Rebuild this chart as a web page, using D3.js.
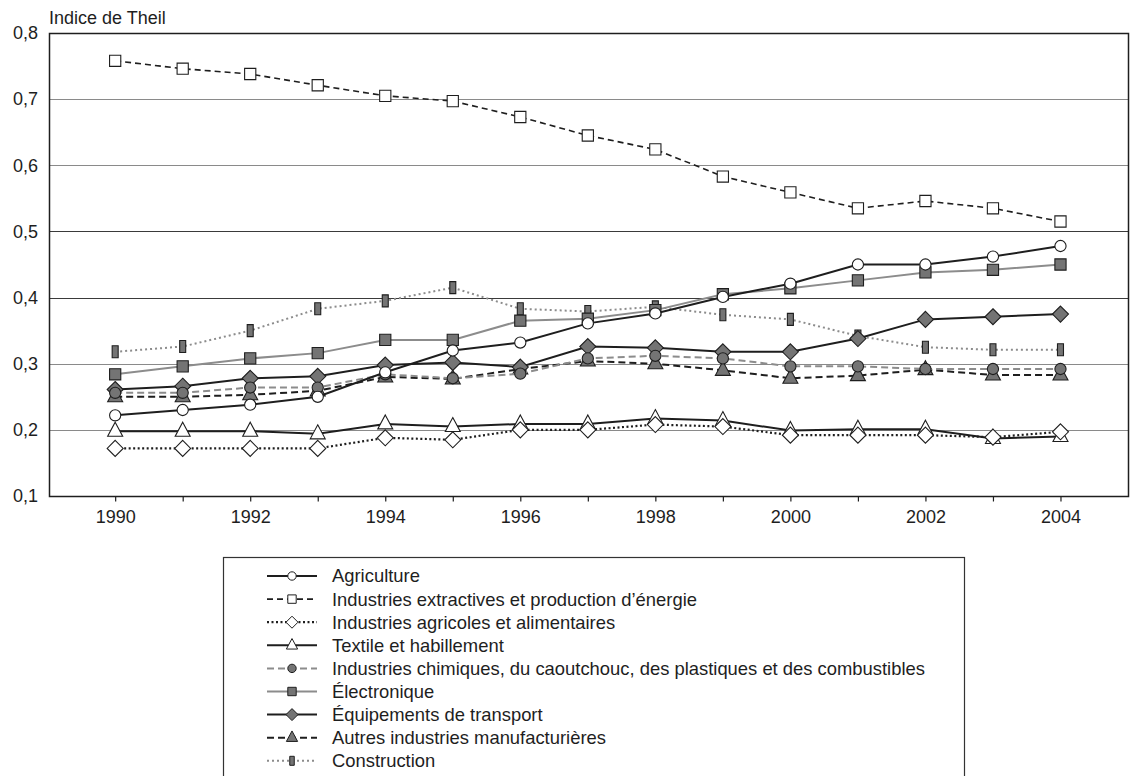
<!DOCTYPE html>
<html>
<head>
<meta charset="utf-8">
<script src="https://cdn.jsdelivr.net/npm/d3@7"></script>
<style>
  html, body { margin: 0; padding: 0; background: #fff; }
  svg { display: block; font-family: "Liberation Sans", Arial, Helvetica, sans-serif; }
</style>
</head>
<body>
<svg id="chart" width="1136" height="776"></svg>
<script>
// ---------- Data ----------
const years = [1990, 1991, 1992, 1993, 1994, 1995, 1996, 1997, 1998, 1999, 2000, 2001, 2002, 2003, 2004];
const yearTickLabels = [1990, 1992, 1994, 1996, 1998, 2000, 2002, 2004];
const yTickValues = [0.1, 0.2, 0.3, 0.4, 0.5, 0.6, 0.7, 0.8];

const agriculture  = [0.222, 0.230, 0.238, 0.250, 0.287, 0.320, 0.332, 0.361, 0.376, 0.401, 0.421, 0.450, 0.450, 0.462, 0.478];
const extractives  = [0.758, 0.746, 0.738, 0.721, 0.705, 0.697, 0.673, 0.645, 0.624, 0.583, 0.559, 0.535, 0.546, 0.535, 0.515];
const agricoles    = [0.172, 0.172, 0.172, 0.172, 0.188, 0.185, 0.200, 0.200, 0.208, 0.205, 0.192, 0.192, 0.192, 0.189, 0.197];
const textile      = [0.198, 0.198, 0.198, 0.194, 0.209, 0.205, 0.209, 0.209, 0.217, 0.214, 0.199, 0.201, 0.201, 0.187, 0.190];
const chimiques    = [0.256, 0.256, 0.264, 0.264, 0.284, 0.278, 0.285, 0.308, 0.312, 0.308, 0.296, 0.296, 0.292, 0.292, 0.292];
const electronique = [0.284, 0.296, 0.308, 0.316, 0.336, 0.336, 0.365, 0.368, 0.381, 0.405, 0.414, 0.426, 0.438, 0.442, 0.450];
const transport    = [0.261, 0.266, 0.278, 0.281, 0.298, 0.302, 0.295, 0.326, 0.324, 0.318, 0.318, 0.338, 0.367, 0.371, 0.375];
const autres       = [0.250, 0.250, 0.253, 0.259, 0.280, 0.277, 0.292, 0.304, 0.300, 0.290, 0.278, 0.282, 0.291, 0.283, 0.283];
const construction = [0.318, 0.326, 0.350, 0.383, 0.395, 0.415, 0.383, 0.379, 0.386, 0.374, 0.367, 0.342, 0.325, 0.321, 0.321];

const seriesNames = [
  "Agriculture",
  "Industries extractives et production d’énergie",
  "Industries agricoles et alimentaires",
  "Textile et habillement",
  "Industries chimiques, du caoutchouc, des plastiques et des combustibles",
  "Électronique",
  "Équipements de transport",
  "Autres industries manufacturières",
  "Construction"
];
const seriesValues = [agriculture, extractives, agricoles, textile, chimiques, electronique, transport, autres, construction];

// ---------- Styles ----------
const DARK = "#1e1e1e", GRAY = "#8c8c8c", FILL = "#747474";
const FONT = 18, LEGEND_FONT = 18.4;
const styles = [
  { stroke: DARK, width: 2,   dash: null,  marker: "circle",   fill: "#fff" },
  { stroke: DARK, width: 1.6, dash: "6,4", marker: "square",   fill: "#fff" },
  { stroke: DARK, width: 2.2, dash: "2,2.5", marker: "diamond", fill: "#fff" },
  { stroke: DARK, width: 2,   dash: null,  marker: "triangle", fill: "#fff" },
  { stroke: GRAY, width: 2,   dash: "7,4", marker: "circle",   fill: FILL },
  { stroke: GRAY, width: 2,   dash: null,  marker: "square",   fill: FILL },
  { stroke: DARK, width: 2,   dash: null,  marker: "diamond",  fill: FILL },
  { stroke: DARK, width: 2,   dash: "7,4", marker: "triangle", fill: FILL },
  { stroke: GRAY, width: 2,   dash: "2,3", marker: "bar",      fill: FILL }
];

// custom symbol shapes (size param = scale factor s)
const shapes = {
  circle:   { draw(ctx, s) { ctx.moveTo(5.6 * s, 0); ctx.arc(0, 0, 5.6 * s, 0, 2 * Math.PI); } },
  square:   { draw(ctx, s) { const h = 5.6 * s; ctx.rect(-h, -h, 2 * h, 2 * h); } },
  diamond:  { draw(ctx, s) { const h = 8 * s; ctx.moveTo(0, -h); ctx.lineTo(h, 0); ctx.lineTo(0, h); ctx.lineTo(-h, 0); ctx.closePath(); } },
  triangle: { draw(ctx, s) { const w = 7.5 * s, t = 9 * s, b = 5 * s; ctx.moveTo(0, -t); ctx.lineTo(w, b); ctx.lineTo(-w, b); ctx.closePath(); } },
  bar:      { draw(ctx, s) { ctx.rect(-3 * s, -6 * s, 6 * s, 12 * s); } }
};
function symbolPath(name, s) { return d3.symbol().type(shapes[name]).size(s)(); }

// ---------- Layout ----------
const svg = d3.select("#chart");
const pL = 49, pR = 1128, pT = 33, pB = 496;

const x = d3.scaleLinear().domain([1989.02, 2005.0]).range([pL, pR]);
const y = d3.scaleLinear().domain([0.1, 0.8]).range([pB, pT]);
const fmt = v => d3.format(".1f")(v).replace(".", ",");

// gridlines
const gridColor = v => (Math.abs(v - 0.5) < 1e-6 || Math.abs(v - 0.4) < 1e-6) ? "#3a3a3a" : "#8a8a8a";
svg.append("g").selectAll("line")
  .data(yTickValues.filter(v => v > 0.15 && v < 0.75))
  .join("line")
  .attr("x1", pL).attr("x2", pR)
  .attr("y1", d => Math.round(y(d)) + 0.5).attr("y2", d => Math.round(y(d)) + 0.5)
  .attr("stroke", d => gridColor(d)).attr("stroke-width", 1.2);

// plot frame
svg.append("rect")
  .attr("x", pL + 0.5).attr("y", Math.round(pT) + 0.5)
  .attr("width", pR - pL).attr("height", Math.round(pB) - Math.round(pT))
  .attr("fill", "none").attr("stroke", DARK).attr("stroke-width", 1.5);

// y axis labels
const yAxis = d3.axisLeft(y).tickValues(yTickValues).tickSize(0).tickPadding(11).tickFormat(fmt);
const yg = svg.append("g").attr("transform", `translate(${pL},0)`).call(yAxis);
yg.select(".domain").remove();
yg.selectAll("text").attr("font-size", FONT).attr("fill", DARK).attr("font-family", "Liberation Sans, Arial, sans-serif");

// x axis: ticks at every year, labels at even years
const xAxis = d3.axisBottom(x).tickValues(years).tickSize(5).tickPadding(9)
  .tickFormat(d => yearTickLabels.includes(d) ? String(d) : "");
const xg = svg.append("g").attr("transform", `translate(0,${Math.round(pB) + 0.5})`).call(xAxis);
xg.select(".domain").remove();
xg.selectAll(".tick line").attr("stroke", DARK).attr("stroke-width", 1.2);
xg.selectAll("text").attr("font-size", FONT).attr("fill", DARK).attr("font-family", "Liberation Sans, Arial, sans-serif");

// y axis title
svg.append("text").attr("x", pL).attr("y", 24)
  .attr("font-size", FONT).attr("fill", DARK).text("Indice de Theil");

// ---------- Series ----------
const line = d3.line().x((d, i) => x(years[i])).y(d => y(d));
const order = d3.range(seriesValues.length).reverse();
const plot = svg.append("g");
order.forEach(k => {
  const st = styles[k];
  const g = plot.append("g");
  g.append("path").datum(seriesValues[k])
    .attr("d", line).attr("fill", "none")
    .attr("stroke", st.stroke).attr("stroke-width", st.width)
    .attr("stroke-dasharray", st.dash);
  g.selectAll("path.m").data(seriesValues[k]).join("path").attr("class", "m")
    .attr("transform", (d, i) => `translate(${x(years[i])},${y(d)})`)
    .attr("d", symbolPath(st.marker, 1))
    .attr("fill", st.fill).attr("stroke", DARK).attr("stroke-width", 1.1);
});

// ---------- Legend ----------
const lg = svg.append("g");
const lgLeft = 223, lgRight = 964, lgTop = 557;
lg.append("rect").attr("x", lgLeft + 0.5).attr("y", lgTop + 0.5)
  .attr("width", lgRight - lgLeft).attr("height", 260)
  .attr("fill", "#fff").attr("stroke", "#333").attr("stroke-width", 1.2);

const rowY = i => 576 + i * 23.1;
seriesNames.forEach((name, i) => {
  const st = styles[i];
  const r = lg.append("g").attr("transform", `translate(0,${rowY(i)})`);
  r.append("line").attr("x1", 267).attr("x2", 317).attr("y1", 0).attr("y2", 0)
    .attr("stroke", st.stroke).attr("stroke-width", st.width)
    .attr("stroke-dasharray", st.dash);
  r.append("path").attr("transform", "translate(292,0)")
    .attr("d", symbolPath(st.marker, 0.75))
    .attr("fill", st.fill).attr("stroke", DARK).attr("stroke-width", 1);
  r.append("text").attr("x", 332).attr("y", 0).attr("dy", "0.35em")
    .attr("font-size", LEGEND_FONT).attr("fill", DARK).text(name);
});
</script>
</body>
</html>
